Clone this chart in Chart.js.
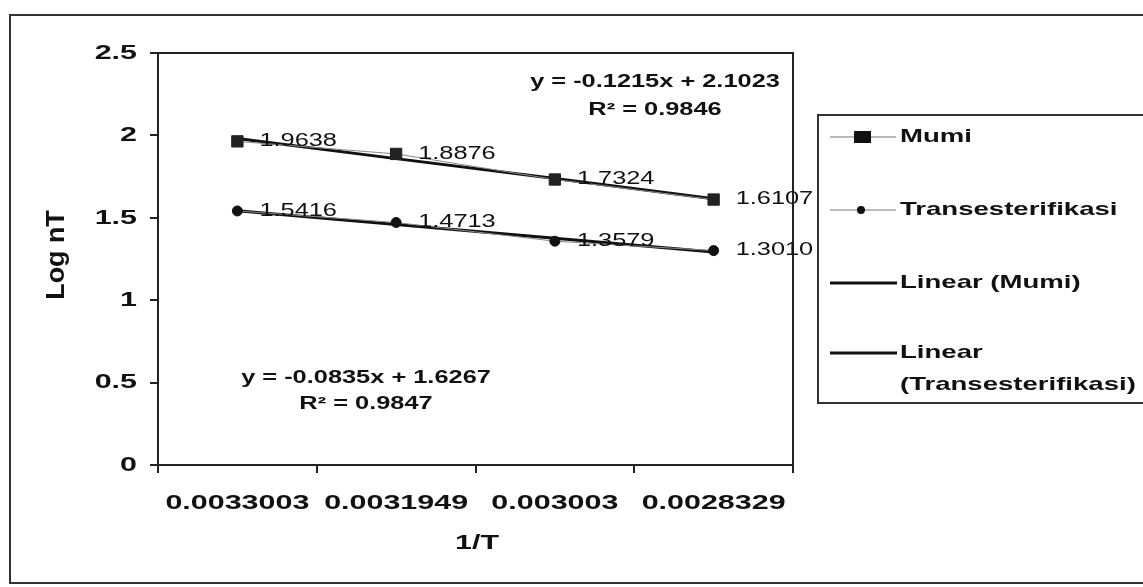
<!DOCTYPE html>
<html>
<head>
<meta charset="utf-8">
<script src="https://cdn.jsdelivr.net/npm/chart.js@4"></script>
<style>
  html, body { margin: 0; padding: 0; background: #fff; }
  #wrap { width: 1143px; height: 587px; position: relative; }
</style>
</head>
<body>
<div id="wrap"><canvas id="chart" width="1143" height="587"></canvas></div>
<script>
// ---- data ----
const categories = ["0.0033003", "0.0031949", "0.003003", "0.0028329"];
const murni = [1.9638, 1.8876, 1.7324, 1.6107];
const trans = [1.5416, 1.4713, 1.3579, 1.3010];
// trend lines as drawn in the picture
const trendMurni = [1.981, 1.859, 1.738, 1.616];
const trendTrans = [1.543, 1.460, 1.376, 1.293];
const yTicks = [0, 0.5, 1, 1.5, 2, 2.5];
const eqMurni = ["y = -0.1215x + 2.1023", "R² = 0.9846"];
const eqTrans = ["y = -0.0835x + 1.6267", "R² = 0.9847"];
const legendLabels = ["Mumi", "Transesterifikasi", "Linear (Mumi)", ["Linear", "(Transesterifikasi)"]];

const FONT = "'Liberation Sans', Arial, sans-serif";
const SX = 1.45; // the scan is wide: glyphs stretched sideways

// stretch every text sideways around its anchor point
function stretchText(ctx) {
  if (ctx._origFill) return;
  ctx._origFill = ctx.fillText;
  ctx.fillText = function (t, x, y) {
    this.save();
    this.translate(x, y);
    this.scale(SX, 1);
    this._origFill(t, 0, 0);
    this.restore();
  };
}

// frame, plot border, labels, equations, legend
const extras = {
  id: "extras",
  beforeDraw(chart) {
    const c = chart.ctx;
    stretchText(c);
    c.save();
    c.fillStyle = "#fff";
    c.fillRect(0, 0, chart.width, chart.height);
    c.strokeStyle = "#333";
    c.lineWidth = 2;
    c.strokeRect(10, 15, 1140, 568);
    c.restore();
  },
  afterDatasetsDraw(chart) {
    const c = chart.ctx;
    const a = chart.chartArea;
    c.save();
    // plot area border
    c.strokeStyle = "#222";
    c.lineWidth = 2;
    c.strokeRect(a.left, a.top, a.right - a.left, a.bottom - a.top);

    // point value labels
    c.fillStyle = "#111";
    c.font = "17.5px " + FONT;
    c.textBaseline = "middle";
    c.textAlign = "left";
    [0, 1].forEach(di => {
      const meta = chart.getDatasetMeta(di);
      const vals = chart.data.datasets[di].data;
      meta.data.forEach((p, i) => {
        c.fillText(vals[i].toFixed(4), p.x + 22, p.y);
      });
    });

    // trend equations
    c.font = "bold 17.5px " + FONT;
    c.textAlign = "center";
    c.fillText(eqMurni[0], 655, 82);
    c.fillText(eqMurni[1], 655, 110);
    c.fillText(eqTrans[0], 366, 378);
    c.fillText(eqTrans[1], 366, 404);

    // axis titles
    c.font = "bold 21px " + FONT;
    c.fillText("1/T", 477, 543);
    c.save();
    c.translate(57, 255);
    c.rotate(-Math.PI / 2);
    c.scale(1.28, 1.25);
    c._origFill("Log nT", 0, 0);
    c.restore();

    // legend box
    c.strokeStyle = "#333";
    c.lineWidth = 2;
    c.strokeRect(818, 115, 330, 288);
    const rows = [137, 210, 283, 353];
    c.font = "bold 19px " + FONT;
    c.textAlign = "left";
    rows.forEach((y, i) => {
      if (i < 2) {
        c.strokeStyle = "#777";
        c.lineWidth = 1;
        c.beginPath(); c.moveTo(830, y); c.lineTo(896, y); c.stroke();
        c.fillStyle = "#111";
        if (i === 0) c.fillRect(854, y - 6, 17, 12);
        else { c.beginPath(); c.arc(861, y, 4, 0, Math.PI * 2); c.fill(); }
      } else {
        c.strokeStyle = "#111";
        c.lineWidth = 3;
        c.beginPath(); c.moveTo(830, y); c.lineTo(897, y); c.stroke();
      }
      c.fillStyle = "#111";
      const lab = legendLabels[i];
      if (Array.isArray(lab)) lab.forEach((t, k) => c.fillText(t, 900, y + k * 32));
      else c.fillText(lab, 900, y);
    });
    c.restore();
  }
};

new Chart(document.getElementById("chart"), {
  type: "line",
  data: {
    labels: categories,
    datasets: [
      {
        label: "Mumi",
        data: murni,
        borderColor: "#888",
        borderWidth: 1,
        pointStyle: "rect",
        pointRadius: 8,
        pointBackgroundColor: "#222",
        pointBorderColor: "#222",
        order: 1
      },
      {
        label: "Transesterifikasi",
        data: trans,
        borderColor: "#888",
        borderWidth: 1,
        pointStyle: "circle",
        pointRadius: 5,
        pointBackgroundColor: "#111",
        pointBorderColor: "#111",
        order: 1
      },
      {
        label: "Linear (Mumi)",
        data: trendMurni,
        borderColor: "#111",
        borderWidth: 3,
        pointRadius: 0,
        order: 2
      },
      {
        label: "Linear (Transesterifikasi)",
        data: trendTrans,
        borderColor: "#111",
        borderWidth: 3,
        pointRadius: 0,
        order: 2
      }
    ]
  },
  options: {
    responsive: false,
    animation: false,
    devicePixelRatio: 1,
    layout: { padding: { left: 0, top: 53, right: 350, bottom: 0 } },
    plugins: { legend: { display: false }, tooltip: { enabled: false } },
    scales: {
      x: {
        type: "category",
        offset: true,
        grid: { offset: true, drawOnChartArea: false, color: "#222", tickLength: 8, lineWidth: 2 },
        border: { color: "#222", width: 2 },
        ticks: { color: "#111", font: { family: FONT, size: 21, weight: "bold" }, padding: 18, maxRotation: 0, autoSkip: false },
        afterFit: s => { s.height = 122; }
      },
      y: {
        min: 0,
        max: 2.5,
        afterBuildTicks: s => { s.ticks = yTicks.map(v => ({ value: v })); },
        grid: { drawOnChartArea: false, color: "#222", tickLength: 8, lineWidth: 2 },
        border: { color: "#222", width: 2 },
        ticks: { color: "#111", font: { family: FONT, size: 21, weight: "bold" }, padding: 13, callback: v => String(v) },
        afterFit: s => { s.width = 158; }
      }
    }
  },
  plugins: [extras]
});
</script>
</body>
</html>
